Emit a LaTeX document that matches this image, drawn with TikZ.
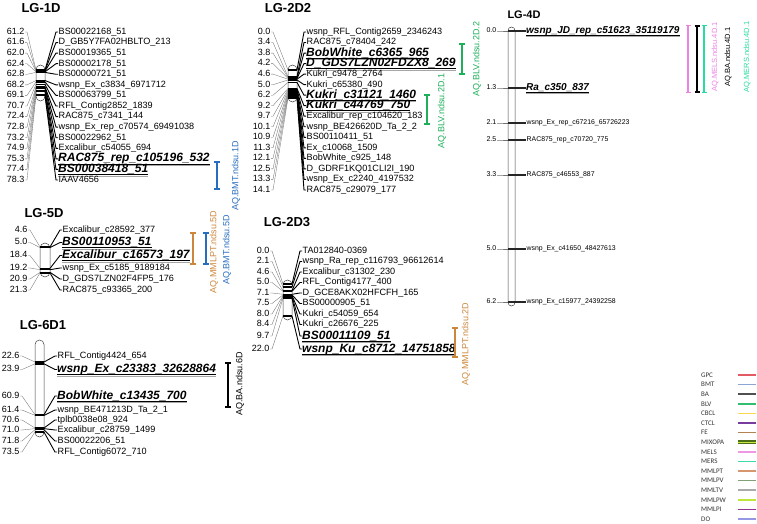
\documentclass[tikz,border=0pt]{standalone}
\usepackage{fontspec}
\setmainfont{Liberation Sans}
\newfontfamily\legfont{Carlito}
\usetikzlibrary{arrows.meta,positioning,calc}

\definecolor{qblue}{RGB}{40,110,190}
\definecolor{qorange}{RGB}{205,135,60}
\definecolor{qgreen}{RGB}{30,175,90}
\definecolor{qpink}{RGB}{235,130,230}
\definecolor{qmint}{RGB}{40,220,160}
\definecolor{cGPC}{RGB}{225,90,100}
\definecolor{cBMT}{RGB}{140,165,215}
\definecolor{cBA}{RGB}{80,80,80}
\definecolor{cBLV}{RGB}{50,190,110}
\definecolor{cCBCL}{RGB}{250,215,80}
\definecolor{cCTCL}{RGB}{120,60,160}
\definecolor{cFE}{RGB}{180,130,80}
\definecolor{cMIX}{RGB}{75,110,25}
\definecolor{cMIXin}{RGB}{200,230,60}
\definecolor{cMELS}{RGB}{240,150,230}
\definecolor{cMERS}{RGB}{60,220,170}
\definecolor{cMMLPT}{RGB}{215,150,110}
\definecolor{cMMLPV}{RGB}{130,160,120}
\definecolor{cMMLTV}{RGB}{170,170,170}
\definecolor{cMMLPW}{RGB}{190,230,60}
\definecolor{cMMLPI}{RGB}{150,50,150}
\definecolor{cDO}{RGB}{150,150,230}

% marcador: posicion (cM), banda en el cromosoma y nombre
\newcommand{\mkr}[6][lab]{%
  \node[num] (n#2) at (\gnum,#3) {#5};
  \node[#1] (m#2) at (\glab,#3) {#6};
  \coordinate (bl#2) at (\gleft,#4);
  \coordinate (br#2) at (\gright,#4);
  \draw[numline] (n#2.east) -- ++(2,0) -- (bl#2);
  \draw[band] (bl#2) -- (br#2);
  \draw[labline] (br#2) -- ([xshift=-2pt]m#2.west) -- (m#2.west);
}
% marcador en negrita y subrayado
\newcommand{\mkb}[5]{%
  \mkr[blab]{#1}{#2}{#3}{#4}{#5}
  \draw[ulshade] ([yshift=-1.3pt]m#1.south west) -- ([yshift=-1.3pt]m#1.south east);
  \draw[ulline] (m#1.south west) -- (m#1.south east);
}

\begin{document}
\begin{tikzpicture}[x=1pt, y=-1pt]
    % Estilos
    \tikzstyle{title} = [font=\bfseries\fontsize{13}{15}\selectfont, inner sep=0pt]
    \tikzstyle{num} = [font=\fontsize{9}{10}\selectfont, anchor=east, inner sep=0.5pt, text height=6.5pt, text depth=1.8pt]
    \tikzstyle{lab} = [font=\fontsize{9.1}{10}\selectfont, anchor=west, inner sep=0.5pt, text height=6.5pt, text depth=1.8pt]
    \tikzstyle{blab} = [lab, font=\bfseries\itshape\fontsize{12}{14}\selectfont, inner sep=0pt, text height=8pt, text depth=2pt]
    \tikzstyle{chrom} = [draw=black!75, line width=0.5pt, fill=white, rounded corners=4.5pt, inner sep=0pt, minimum width=9pt]
    \tikzstyle{numline} = [black!55, line width=0.35pt]
    \tikzstyle{band} = [black, line width=1.4pt]
    \tikzstyle{labline} = [black, line width=0.9pt]
    \tikzstyle{ulline} = [black, line width=1pt]
    \tikzstyle{ulshade} = [black!35, line width=0.8pt]
    \tikzstyle{qtl} = [line width=1.6pt, arrows={Bar[width=6pt]-Bar[width=6pt]}]
    \tikzstyle{qlab} = [font=\fontsize{9}{10}\selectfont, rotate=90, inner sep=0pt]
    \tikzstyle{leg} = [font=\legfont\fontsize{7}{8}\selectfont, anchor=west, inner sep=0pt, text=black!80]
    \tikzstyle{legline} = [line width=1.6pt]

    \useasboundingbox (0,0) rectangle (757,524);

    % --- LG-1D ---
    \node[title] (t1D) at (41,8) {LG-1D};
    \node[chrom, minimum height=36pt] (c1D) at (40.5,83) {};
    \def\gnum{25}\def\gleft{36}\def\gright{45}\def\glab{58}
    \mkr{a1}{32}{70}{61.2}{BS00022168\_51}
    \mkr{a2}{42.6}{70.6}{61.6}{D\_GB5Y7FA02HBLTO\_213}
    \mkr{a3}{53.1}{71.2}{62.0}{BS00019365\_51}
    \mkr{a4}{63.7}{71.8}{62.4}{BS00002178\_51}
    \mkr{a5}{74.3}{72.4}{62.8}{BS00000721\_51}
    \mkr{a6}{84.9}{80.5}{68.2}{wsnp\_Ex\_c3834\_6971712}
    \mkr{a7}{95.4}{81.9}{69.1}{BS00063799\_51}
    \mkr{a8}{106}{84.3}{70.7}{RFL\_Contig2852\_1839}
    \mkr{a9}{116.6}{86.8}{72.4}{RAC875\_c7341\_144}
    \mkr{a10}{127.1}{87.4}{72.8}{wsnp\_Ex\_rep\_c70574\_69491038}
    \mkr{a11}{137.7}{88}{73.2}{BS00022962\_51}
    \mkr{a12}{148.3}{90.6}{74.9}{Excalibur\_c54055\_694}
    \mkb{a13}{158.9}{91.2}{75.3}{RAC875\_rep\_c105196\_532}
    \mkb{a14}{169.4}{94.3}{77.4}{BS00038418\_51}
    \mkr{a15}{180}{95.7}{78.3}{IAAV4656}
    % QTL
    \coordinate (q1Dt) at (217,161); \coordinate (q1Db) at (217,190);
    \draw[qtl, qblue] (q1Dt) -- (q1Db);
    \node[qlab, qblue] (ql1D) at (236,176) {AQ.BMT.ndsu.1D};

    % --- LG-5D ---
    \node[title] (t5D) at (44,213) {LG-5D};
    \node[chrom, minimum width=10pt, minimum height=34pt, rounded corners=5pt] (c5D) at (45,260) {};
    \def\gnum{28}\def\gleft{40}\def\gright{50}\def\glab{62}
    \mkr{b1}{230}{247}{4.6}{Excalibur\_c28592\_377}
    \mkb{b2}{242.5}{247.6}{5.0}{BS00110953\_51}
    \mkb{b3}{255.5}{268.4}{18.4}{Excalibur\_c16573\_197}
    \mkr{b4}{268}{269.7}{19.2}{wsnp\_Ex\_c5185\_9189184}
    \mkr{b5}{279}{272.3}{20.9}{D\_GDS7LZN02F4FP5\_176}
    \mkr{b6}{290}{272.9}{21.3}{RAC875\_c93365\_200}
    % QTL
    \coordinate (q5Dat) at (193,232); \coordinate (q5Dab) at (193,265);
    \draw[qtl, qorange] (q5Dat) -- (q5Dab);
    \node[qlab, qorange] (ql5Da) at (214,252) {AQ.MMLPT.ndsu.5D};
    \coordinate (q5Dbt) at (206,232); \coordinate (q5Dbb) at (206,265);
    \draw[qtl, qblue] (q5Dbt) -- (q5Dbb);
    \node[qlab, qblue] (ql5Db) at (227,250) {AQ.BMT.ndsu.5D};

    % --- LG-6D1 ---
    \node[title] (t6D) at (43,325) {LG-6D1};
    \node[chrom, minimum height=97pt] (c6D) at (39.5,388.5) {};
    \def\gnum{20}\def\gleft{35}\def\gright{44}\def\glab{57}
    \mkr{c1}{356}{362}{22.6}{RFL\_Contig4424\_654}
    \mkb{c2}{369.5}{363.8}{23.9}{wsnp\_Ex\_c23383\_32628864}
    \mkb{c3}{396}{414.7}{60.9}{BobWhite\_c13435\_700}
    \mkr{c4}{410}{415.4}{61.4}{wsnp\_BE471213D\_Ta\_2\_1}
    \mkr{c5}{420}{428}{70.6}{tplb0038e08\_924}
    \mkr{c6}{430}{428.6}{71.0}{Excalibur\_c28759\_1499}
    \mkr{c7}{441}{429.7}{71.8}{BS00022206\_51}
    \mkr{c8}{452}{432}{73.5}{RFL\_Contig6072\_710}
    % QTL
    \coordinate (q6Dt) at (228,362); \coordinate (q6Db) at (228,408);
    \draw[qtl, black] (q6Dt) -- (q6Db);
    \node[qlab, black] (ql6D) at (240,384) {AQ.BA.ndsu.6D};

    % --- LG-2D2 ---
    \node[title] (t2D2) at (288,8) {LG-2D2};
    \node[chrom, minimum height=37pt] (c2D2) at (292.5,83.5) {};
    \def\gnum{271}\def\gleft{288}\def\gright{297}\def\glab{306}
    \mkr{d1}{32}{70}{0.0}{wsnp\_RFL\_Contig2659\_2346243}
    \mkr{d2}{42.5}{76.8}{3.4}{RAC875\_c78404\_242}
    \mkb{d3}{53.1}{77.6}{3.8}{BobWhite\_c6365\_965}
    \mkb{d4}{63.6}{78.4}{4.2}{D\_GDS7LZN02FDZX8\_269}
    \mkr{d5}{74.1}{79.2}{4.6}{Kukri\_c9478\_2764}
    \mkr{d6}{84.7}{80}{5.0}{Kukri\_c65380\_490}
    \mkb{d7}{95.2}{82.4}{6.2}{Kukri\_c31121\_1460}
    \mkb{d8}{105.7}{88.4}{9.2}{Kukri\_c44769\_750}
    \mkr{d9}{116.2}{89.4}{9.7}{Excalibur\_rep\_c104620\_183}
    \mkr{d10}{126.8}{90.2}{10.1}{wsnp\_BE426620D\_Ta\_2\_2}
    \mkr{d11}{137.3}{91.8}{10.9}{BS00110411\_51}
    \mkr{d12}{147.8}{92.6}{11.3}{Ex\_c10068\_1509}
    \mkr{d13}{158.4}{94.2}{12.1}{BobWhite\_c925\_148}
    \mkr{d14}{168.9}{95}{12.5}{D\_GDRF1KQ01CLI2I\_190}
    \mkr{d15}{179.4}{96.6}{13.3}{wsnp\_Ex\_c2240\_4197532}
    \mkr{d16}{190}{98.2}{14.1}{RAC875\_c29079\_177}
    % QTL
    \coordinate (q2Dat) at (462,43); \coordinate (q2Dab) at (462,75);
    \draw[qtl, qgreen] (q2Dat) -- (q2Dab);
    \node[qlab, qgreen] (ql2Da) at (477,59) {AQ.BLV.ndsu.2D.2};
    \coordinate (q2Dbt) at (427,94); \coordinate (q2Dbb) at (427,125);
    \draw[qtl, qgreen] (q2Dbt) -- (q2Dbb);
    \node[qlab, qgreen] (ql2Db) at (442,111) {AQ.BLV.ndsu.2D.1};

    % --- LG-2D3 ---
    \node[title] (t2D3) at (287,222) {LG-2D3};
    \node[chrom, minimum height=40pt] (c2D3) at (287.5,300) {};
    \def\gnum{270}\def\gleft{283}\def\gright{292}\def\glab{302}
    \mkr{e1}{251}{284}{0.0}{TA012840-0369}
    \mkr{e2}{261.5}{287}{2.1}{wsnp\_Ra\_rep\_c116793\_96612614}
    \mkr{e3}{272}{290.7}{4.6}{Excalibur\_c31302\_230}
    \mkr{e4}{282.5}{291.3}{5.0}{RFL\_Contig4177\_400}
    \mkr{e5}{293}{294.3}{7.1}{D\_GCE8AKX02HFCFH\_165}
    \mkr{e6}{303.5}{294.9}{7.5}{BS00000905\_51}
    \mkr{e7}{314}{295.6}{8.0}{Kukri\_c54059\_654}
    \mkr{e8}{324.5}{296.2}{8.4}{Kukri\_c26676\_225}
    \mkb{e9}{336}{298.1}{9.7}{BS00011109\_51}
    \mkb{e10}{349}{315.9}{22.0}{wsnp\_Ku\_c8712\_14751858}
    % QTL
    \coordinate (q2D3t) at (455,327); \coordinate (q2D3b) at (455,358);
    \draw[qtl, qorange] (q2D3t) -- (q2D3b);
    \node[qlab, qorange] (ql2D3) at (466,344) {AQ.MMLPT.ndsu.2D};

    % --- LG-4D ---
    \begin{scope}[num/.style={font=\fontsize{7}{8}\selectfont, anchor=east, inner sep=0.5pt, text height=5pt, text depth=1.4pt},
                  lab/.style={font=\fontsize{6.9}{8}\selectfont, anchor=west, inner sep=0.5pt, text height=5pt, text depth=1.4pt},
                  blab/.style={lab, font=\bfseries\itshape\fontsize{10}{12}\selectfont, inner sep=0pt, text height=7pt, text depth=1.7pt},
                  band/.style={black!85, line width=1.2pt}, labline/.style={black!85, line width=1.2pt}]
    \node[title, font=\bfseries\fontsize{11}{13}\selectfont] (t4D) at (524,15) {LG-4D};
    \node[chrom, minimum width=7pt, minimum height=279pt, rounded corners=3.5pt] (c4D) at (511.5,166.5) {};
    \def\gnum{497}\def\gleft{508}\def\gright{515}\def\glab{526}
    \mkb{f1}{31}{31}{0.0}{wsnp\_JD\_rep\_c51623\_35119179}
    \mkb{f2}{88}{88}{1.3}{Ra\_c350\_837}
    \mkr{f3}{123}{123}{2.1}{wsnp\_Ex\_rep\_c67216\_65726223}
    \mkr{f4}{140}{140}{2.5}{RAC875\_rep\_c70720\_775}
    \mkr{f5}{175}{175}{3.3}{RAC875\_c46553\_887}
    \mkr{f6}{249}{249}{5.0}{wsnp\_Ex\_c41650\_48427613}
    \mkr{f7}{302}{302}{6.2}{wsnp\_Ex\_c15977\_24392258}
    \end{scope}
    % QTL
    \tikzstyle{qtl4} = [line width=1.3pt, arrows={Bar[width=5pt]-Bar[width=5pt]}]
    \coordinate (q4Dat) at (688,25); \coordinate (q4Dab) at (688,93);
    \draw[qtl4, qpink] (q4Dat) -- (q4Dab);
    \node[qlab, qpink, font=\fontsize{7.5}{9}\selectfont] (ql4Da) at (715,57) {AQ.MELS.ndsu.4D.1};
    \coordinate (q4Dbt) at (697,25); \coordinate (q4Dbb) at (697,93);
    \draw[qtl4, black, line width=1.6pt] (q4Dbt) -- (q4Dbb);
    \node[qlab, black, font=\fontsize{7.5}{9}\selectfont] (ql4Db) at (728,57) {AQ.BA.ndsu.4D.1};
    \coordinate (q4Dct) at (704,25); \coordinate (q4Dcb) at (704,93);
    \draw[qtl4, qmint] (q4Dct) -- (q4Dcb);
    \node[qlab, qmint, font=\fontsize{7.5}{9}\selectfont] (ql4Dc) at (747,57) {AQ.MERS.ndsu.4D.1};

    % --- Leyenda ---
    \node[leg] (gGPC) at (701,375) {GPC};     \draw[legline, cGPC] ([xshift=37pt]gGPC.west) -- ++(18,0);
    \node[leg] (gBMT) at (701,384.6) {BMT};   \draw[legline, cBMT] ([xshift=37pt]gBMT.west) -- ++(18,0);
    \node[leg] (gBA) at (701,394.2) {BA};     \draw[legline, cBA] ([xshift=37pt]gBA.west) -- ++(18,0);
    \node[leg] (gBLV) at (701,403.8) {BLV};   \draw[legline, cBLV] ([xshift=37pt]gBLV.west) -- ++(18,0);
    \node[leg] (gCBCL) at (701,413.4) {CBCL}; \draw[legline, cCBCL] ([xshift=37pt]gCBCL.west) -- ++(18,0);
    \node[leg] (gCTCL) at (701,423) {CTCL};   \draw[legline, cCTCL] ([xshift=37pt]gCTCL.west) -- ++(18,0);
    \node[leg] (gFE) at (701,432.6) {FE};     \draw[legline, cFE] ([xshift=37pt]gFE.west) -- ++(18,0);
    \node[leg] (gMIX) at (701,442.2) {MIXOPA};
    \draw[cMIX, line width=4pt] ([xshift=37pt]gMIX.west) -- ++(18,0);
    \draw[cMIXin, line width=1pt] ([xshift=37pt]gMIX.west) -- ++(18,0);
    \node[leg] (gMELS) at (701,451.8) {MELS};   \draw[legline, cMELS] ([xshift=37pt]gMELS.west) -- ++(18,0);
    \node[leg] (gMERS) at (701,461.4) {MERS};   \draw[legline, cMERS] ([xshift=37pt]gMERS.west) -- ++(18,0);
    \node[leg] (gMMLPT) at (701,471) {MMLPT};   \draw[legline, cMMLPT] ([xshift=37pt]gMMLPT.west) -- ++(18,0);
    \node[leg] (gMMLPV) at (701,480.6) {MMLPV}; \draw[legline, cMMLPV] ([xshift=37pt]gMMLPV.west) -- ++(18,0);
    \node[leg] (gMMLTV) at (701,490.2) {MMLTV}; \draw[legline, cMMLTV] ([xshift=37pt]gMMLTV.west) -- ++(18,0);
    \node[leg] (gMMLPW) at (701,499.8) {MMLPW}; \draw[legline, cMMLPW] ([xshift=37pt]gMMLPW.west) -- ++(18,0);
    \node[leg] (gMMLPI) at (701,509.4) {MMLPI}; \draw[legline, cMMLPI] ([xshift=37pt]gMMLPI.west) -- ++(18,0);
    \node[leg] (gDO) at (701,519) {DO};         \draw[legline, cDO] ([xshift=37pt]gDO.west) -- ++(18,0);

\end{tikzpicture}
\end{document}
